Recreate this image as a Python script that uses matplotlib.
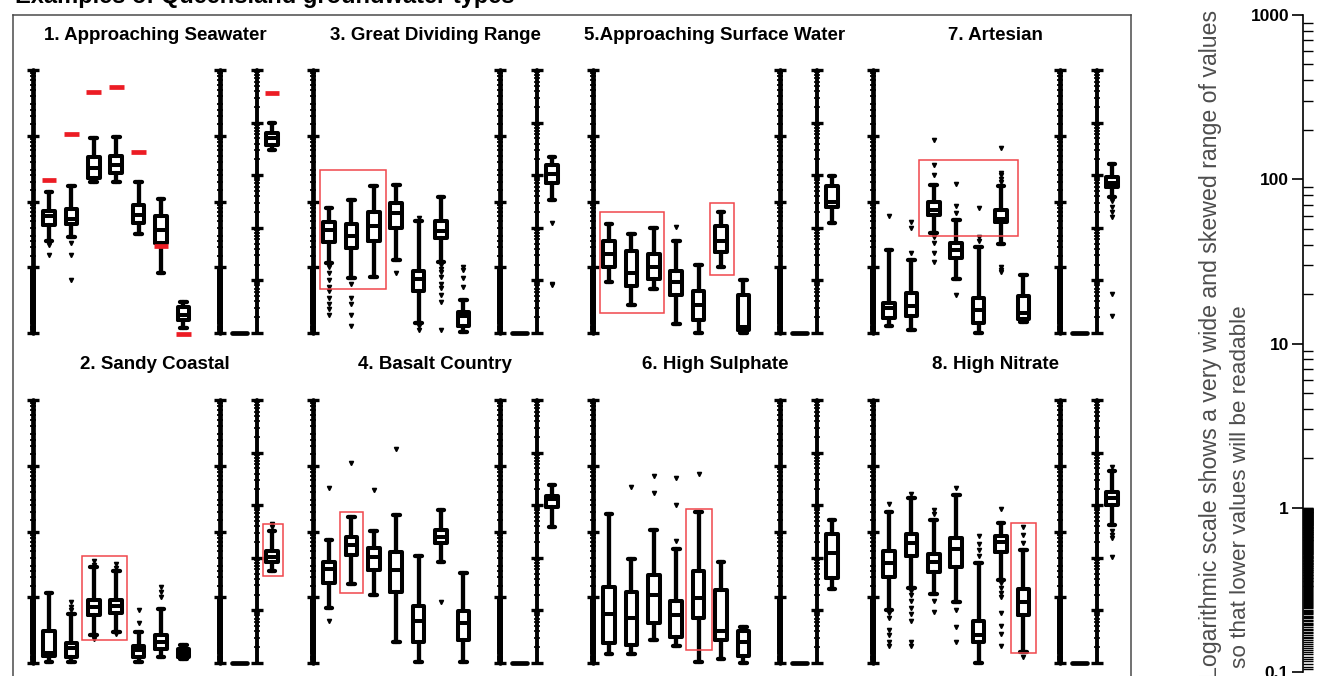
import numpy as np
import matplotlib
matplotlib.use("Agg")
import matplotlib.pyplot as plt
from matplotlib.patches import Rectangle
from matplotlib.lines import Line2D
from matplotlib.ticker import FixedLocator, NullFormatter, LogLocator, FuncFormatter

plt.rcParams['font.family'] = ['Liberation Sans', 'DejaVu Sans']

# ---------------- data ----------------
chart_title = "Examples of Queensland groundwater types"
panel_titles = ["1. Approaching Seawater", "3. Great Dividing Range",
                "5.Approaching Surface Water", "7. Artesian",
                "2. Sandy Coastal", "4. Basalt Country",
                "6. High Sulphate", "8. High Nitrate"]
note_line1 = "Logarithmic scale shows a very wide and skewed range of values"
note_line2 = "so that lower values will be readable"
scale_ticks = [0.1, 1, 10, 100, 1000]

# Panel 1 - Approaching Seawater
p1_lo = [2.5, 2.9, 19.5, 20, 3.2, 0.83, 0.12]
p1_q1 = [4.4, 4.6, 23, 27, 4.7, 2.35, 0.16]
p1_med = [6.0, 5.4, 32, 36, 6.2, 3.7, 0.19]
p1_q3 = [7.2, 7.6, 47, 49, 8.9, 6.0, 0.25]
p1_hi = [14, 17, 91, 96, 20, 11, 0.30]
p1_fliers = [[2.2, 1.55], [2.35, 1.55, 0.63], [], [], [], [], []]
p1_right = [300, 375, 500, 630, 1000]
p1_right_fliers = []
p1_seawater = [21, 105, 470, 560, 56, 2.1, 0.095]
p1_seawater_right = 3700

# Panel 3 - Great Dividing Range
p3_lo = [1.17, 0.68, 0.71, 1.3, 0.14, 1.2, 0.105]
p3_q1 = [2.45, 1.95, 2.5, 3.9, 0.44, 2.75, 0.126]
p3_med = [3.7, 3.0, 4.3, 6.6, 0.66, 3.5, 0.18]
p3_q3 = [4.8, 4.6, 6.9, 9.5, 0.89, 5.1, 0.21]
p3_hi = [8.0, 10.5, 17, 18, 5.1, 11.7, 0.32]
p3_fliers = [[1.02, 0.81, 0.64, 0.50, 0.43, 0.34, 0.28, 0.235, 0.185],
             [0.56, 0.34, 0.28, 0.185, 0.13], [], [0.83], [5.6, 0.13, 0.11],
             [1.07, 0.95, 0.85, 0.71, 0.56, 0.48, 0.38, 0.30, 0.11],
             [1.02, 0.91, 0.68, 0.50]]
p3_right = [34, 70, 105, 155, 220]
p3_right_fliers = [12.6, 0.87, 0.8]

# Panel 5 - Approaching Surface Water
p5_lo = [0.59, 0.27, 0.46, 0.138, 0.10, 1.0, 0.10]
p5_q1 = [1.02, 0.51, 0.66, 0.38, 0.16, 1.73, 0.112]
p5_med = [1.58, 0.81, 1.0, 0.60, 0.27, 2.5, 0.125]
p5_q3 = [2.5, 1.78, 1.58, 0.89, 0.44, 4.2, 0.38]
p5_hi = [4.6, 3.2, 4.0, 2.5, 1.08, 6.9, 0.64]
p5_fliers = [[], [], [], [4.1], [], [], []]
p5_right = [12.6, 25, 31.5, 62, 97]
p5_right_fliers = []

# Panel 7 - Artesian
p7_lo = [0.126, 0.11, 3.3, 0.66, 0.10, 2.24, 0.145]
p7_q1 = [0.167, 0.18, 6.2, 1.38, 0.14, 4.8, 0.162]
p7_med = [0.24, 0.26, 7.3, 1.86, 0.22, 5.5, 0.20]
p7_q3 = [0.29, 0.41, 10, 2.3, 0.34, 7.4, 0.36]
p7_hi = [1.86, 1.3, 18, 5.2, 2.05, 17, 0.76]
p7_fliers = [[6.0], [4.9, 4.0, 1.66], [87, 36, 25, 2.9, 2.35, 1.62, 1.2],
             [18.6, 8.5, 6.8, 0.38], [8.0, 2.9, 2.5],
             [66, 27, 25, 22, 20, 1.02, 0.91, 0.84], []]
p7_right = [39, 59, 71, 93, 162]
p7_right_fliers = [32, 25, 20, 16, 0.55, 0.21]

# Panel 2 - Sandy Coastal
p2_lo = [0.105, 0.105, 0.27, 0.30, 0.105, 0.125, 0.115]
p2_q1 = [0.128, 0.125, 0.54, 0.57, 0.125, 0.162, 0.123]
p2_med = [0.144, 0.167, 0.72, 0.74, 0.155, 0.21, 0.141]
p2_q3 = [0.31, 0.20, 0.91, 0.91, 0.18, 0.27, 0.162]
p2_hi = [1.17, 0.56, 2.9, 2.5, 0.30, 0.66, 0.185]
p2_fliers = [[], [0.85, 0.72, 0.64], [3.5, 3.1, 0.25, 0.23], [3.2, 2.8, 0.28],
             [0.64, 0.40], [1.45, 1.2, 1.0], []]
p2_right = [5.5, 8.5, 10.5, 13.6, 33]
p2_right_fliers = [44, 39]

# Panel 4 - Basalt Country
p4_lo = [0.68, 1.58, 1.08, 0.21, 0.105, 3.4, 0.105]
p4_q1 = [1.62, 4.4, 2.6, 1.2, 0.21, 6.6, 0.22]
p4_med = [2.7, 6.2, 4.1, 2.6, 0.44, 8.3, 0.40]
p4_q3 = [3.4, 8.3, 5.7, 4.8, 0.74, 10.5, 0.62]
p4_hi = [7.4, 16.6, 10.2, 17.8, 4.2, 21, 2.35]
p4_fliers = [[46, 0.43], [110], [43], [178], [], [0.85], []]
p4_right = [39, 91, 130, 150, 240]
p4_right_fliers = []

# Panel 6 - High Sulphate
p6_lo = [0.138, 0.138, 0.22, 0.18, 0.105, 0.117, 0.10]
p6_q1 = [0.2, 0.186, 0.40, 0.25, 0.48, 0.22, 0.128]
p6_med = [0.55, 0.48, 1.08, 0.54, 0.96, 0.31, 0.21]
p6_q3 = [1.41, 1.2, 2.2, 0.89, 2.5, 1.29, 0.31]
p6_hi = [18.2, 3.8, 10.7, 5.5, 19.5, 3.4, 0.35]
p6_fliers = [[], [47], [69, 38], [65, 25, 7.2], [74], [], []]
p6_right = [2.5, 4.1, 12.2, 28, 53]
p6_right_fliers = []

# Panel 8 - High Nitrate
p8_lo = [0.64, 1.38, 1.12, 0.85, 0.10, 1.8, 0.145]
p8_q1 = [2.05, 4.2, 2.45, 2.9, 0.21, 4.8, 0.54]
p8_med = [3.3, 6.8, 3.4, 5.4, 0.27, 7.0, 0.85]
p8_q3 = [5.0, 9.1, 4.6, 8.0, 0.44, 8.5, 1.32]
p8_hi = [19.6, 32, 15, 36, 3.3, 13.6, 5.2]
p8_fliers = [[26, 0.57, 0.48, 0.32, 0.27, 0.21, 0.18],
             [37, 1.26, 1.07, 0.87, 0.69, 0.55, 0.44, 0.21, 0.18],
             [21, 18.6, 0.87, 0.59], [46, 0.64, 0.35, 0.21], [8.5, 6.5, 5.2, 4.2],
             [22, 1.62, 1.38, 1.15, 1.02, 0.57, 0.37, 0.28, 0.18],
             [11.7, 8.9, 6.6, 0.123]]
p8_right = [42, 100, 135, 175, 440]
p8_right_fliers = [540, 32, 27, 23.5, 10.2]

# value at which each panel's middle strip sits (all at the floor)
middle_values = [0.1] * 8

# highlighted groups: (panel, axis, first pos, last pos, low value, high value)
highlights = [
    (1, 'main', 0.6, 3.54, 0.47, 30),
    (2, 'main', 0.6, 3.46, 0.20, 7.0),
    (2, 'main', 5.51, 6.58, 0.76, 9.5),
    (3, 'main', 2.34, 6.76, 3.0, 43),
    (4, 'main', 2.47, 4.48, 0.22, 4.2),
    (4, 'right', 0.6, 1.49, 4.5, 44),
    (5, 'main', 1.49, 2.52, 1.17, 20),
    (6, 'main', 4.44, 5.6, 0.155, 22),
    (7, 'main', 6.45, 7.56, 0.14, 13.5),
]

panels = [
    (p1_lo, p1_q1, p1_med, p1_q3, p1_hi, p1_fliers, p1_right, p1_right_fliers),
    (p3_lo, p3_q1, p3_med, p3_q3, p3_hi, p3_fliers, p3_right, p3_right_fliers),
    (p5_lo, p5_q1, p5_med, p5_q3, p5_hi, p5_fliers, p5_right, p5_right_fliers),
    (p7_lo, p7_q1, p7_med, p7_q3, p7_hi, p7_fliers, p7_right, p7_right_fliers),
    (p2_lo, p2_q1, p2_med, p2_q3, p2_hi, p2_fliers, p2_right, p2_right_fliers),
    (p4_lo, p4_q1, p4_med, p4_q3, p4_hi, p4_fliers, p4_right, p4_right_fliers),
    (p6_lo, p6_q1, p6_med, p6_q3, p6_hi, p6_fliers, p6_right, p6_right_fliers),
    (p8_lo, p8_q1, p8_med, p8_q3, p8_hi, p8_fliers, p8_right, p8_right_fliers),
]

# ---------------- layout ----------------
W, H = 1317, 676
DPI = 100
fig = plt.figure(figsize=(W / DPI, H / DPI), dpi=DPI)
fig.patch.set_facecolor('white')

RED = '#ec1c24'
UNIT = 22.4  # px per box slot


def px_rect(x, y_top, w, h):
    return [x / W, 1 - (y_top + h) / H, w / W, h / H]


def style_log_axis(ax, ymin, ymax, dense_bottom, spine_w, maj_len, min_len, min_w,
                   extra=True):
    ax.set_yscale('log')
    ax.set_ylim(ymin, ymax)
    for s in ['top', 'right', 'bottom']:
        ax.spines[s].set_visible(False)
    ax.spines['left'].set_linewidth(spine_w)
    ax.spines['left'].set_capstyle('round')
    ax.set_xticks([])
    ax.yaxis.set_major_locator(LogLocator(base=10, numticks=20))
    lo_e, hi_e = int(np.round(np.log10(ymin))), int(np.round(np.log10(ymax)))
    minors = [s * 10.0 ** e for e in range(lo_e, hi_e) for s in range(2, 10)]
    if extra:
        minors += [s * 10.0 ** e for e in range(lo_e, hi_e) for s in (1.5, 2.5)]
    if dense_bottom:
        minors += list(np.arange(ymin * 1.05, ymin * 10, ymin * 0.05))
    ax.yaxis.set_minor_locator(FixedLocator(minors))
    ax.yaxis.set_major_formatter(NullFormatter())
    ax.yaxis.set_minor_formatter(NullFormatter())
    ax.tick_params(axis='y', which='major', direction='inout', length=maj_len,
                   width=2.4, color='black')
    ax.tick_params(axis='y', which='minor', direction='inout', length=min_len,
                   width=min_w, color='black')
    ax.patch.set_alpha(0)


box_kw = dict(
    boxprops=dict(color='black', linewidth=2.9),
    whiskerprops=dict(color='black', linewidth=3.1),
    capprops=dict(color='black', linewidth=3.1),
    medianprops=dict(color='black', linewidth=2.9),
    flierprops=dict(marker='v', markersize=3.0, markerfacecolor='black',
                    markeredgecolor='black', linestyle='none'),
)


def draw_boxes(ax, stats, positions):
    arts = ax.bxp(stats, positions=positions, widths=0.52, capwidths=0.3,
                  manage_ticks=False, **box_kw)
    for key in arts:
        for a in arts[key]:
            a.set_clip_on(False)
            if hasattr(a, 'set_solid_capstyle'):
                a.set_solid_capstyle('round')


axes_main, axes_right = [], []
for i, (lo, q1, med, q3, hi, fl, rt, rtf) in enumerate(panels):
    col, row = i % 4, i // 4
    L = 33 + 280 * col
    top = 70 + 330 * row
    hgt = 263

    ax = fig.add_axes(px_rect(L, top, 187, hgt))
    style_log_axis(ax, 0.1, 1000, True, 3.4, 9, 5.0, 1.3)
    x0 = 1 - 16 / UNIT
    ax.set_xlim(x0, x0 + 187 / UNIT)
    stats = [dict(whislo=lo[k], q1=q1[k], med=med[k], q3=q3[k], whishi=hi[k],
                  fliers=fl[k]) for k in range(len(lo))]
    draw_boxes(ax, stats, list(range(1, len(lo) + 1)))
    axes_main.append(ax)

    axm = fig.add_axes(px_rect(L + 187, top, 37, hgt))
    style_log_axis(axm, 0.1, 1000, True, 3.4, 9, 5.0, 1.3)
    axm.set_xlim(0, 1)
    axm.hlines(middle_values[i], 0.33, 0.73, color='black', linewidth=3.4,
               clip_on=False, capstyle='round')

    axr = fig.add_axes(px_rect(L + 224, top, 40, hgt))
    style_log_axis(axr, 0.1, 1e4, False, 2.8, 8, 4.0, 1.2, extra=False)
    xr0 = 1 - 15 / UNIT
    axr.set_xlim(xr0, xr0 + 40 / UNIT)
    draw_boxes(axr, [dict(whislo=rt[0], q1=rt[1], med=rt[2], q3=rt[3],
                          whishi=rt[4], fliers=rtf)], [1])
    axes_right.append(axr)

    fig.text((L + 122) / W, 1 - (40 + 329 * row) / H, panel_titles[i],
             ha='center', va='baseline', fontsize=13.5, fontweight='bold')

# seawater reference marks in panel 1
axes_main[0].hlines(p1_seawater, np.arange(1, 8) - 0.33, np.arange(1, 8) + 0.33,
                    color=RED, linewidth=3.4, clip_on=False, zorder=5)
axes_right[0].hlines(p1_seawater_right, 0.67, 1.33, color=RED, linewidth=3.4,
                     clip_on=False, zorder=5)

# highlight rectangles
for (pi, which, xa, xb, ya, yb) in highlights:
    tgt = axes_main[pi] if which == 'main' else axes_right[pi]
    tgt.add_patch(Rectangle((xa, ya), xb - xa, yb - ya, fill=False,
                            edgecolor='#f0474c', linewidth=1.1, zorder=6,
                            clip_on=False))

# frame around the panel area
frame_col = '#4a4a4a'
for (xa, ya, xb, yb) in [(13, 15, 1131, 15), (13, 15, 13, 676), (1131, 15, 1131, 676)]:
    fig.add_artist(Line2D([xa / W, xb / W], [1 - ya / H, 1 - yb / H],
                          color=frame_col, linewidth=1.1))

fig.text(15 / W, 1 - 3 / H, chart_title, ha='left', va='baseline',
         fontsize=17, fontweight='bold')

# explanatory rotated note
fig.text(1211 / W, 1 - 679 / H, note_line1, rotation=90, rotation_mode='anchor',
         ha='left', va='center', fontsize=16.7, color='#4d4d4d')
fig.text(1241 / W, 1 - 668 / H, note_line2, rotation=90, rotation_mode='anchor',
         ha='left', va='center', fontsize=16.2, color='#4d4d4d')

# reference log scale on the far right
axs = fig.add_axes(px_rect(1303, 15, 14, 657))
axs.set_yscale('log')
axs.set_ylim(0.1, 1000)
for s in ['top', 'right', 'bottom']:
    axs.spines[s].set_visible(False)
axs.spines['left'].set_linewidth(1.2)
axs.set_xticks([])
axs.yaxis.set_major_locator(FixedLocator(scale_ticks))
axs.yaxis.set_major_formatter(FuncFormatter(lambda v, p: f"{v:g}"))
leg_minor = [s * 10.0 ** e for e in range(0, 3) for s in range(2, 10)]
leg_minor += list(np.arange(0.104, 1.0, 0.004))
axs.yaxis.set_minor_locator(FixedLocator(leg_minor))
axs.yaxis.set_minor_formatter(NullFormatter())
axs.tick_params(axis='y', which='major', direction='out', length=8, width=1.2,
                pad=2, labelsize=12.5)
axs.tick_params(axis='y', which='minor', direction='in', length=7, width=1.0)
for lab in axs.get_yticklabels():
    lab.set_fontweight('bold')
axs.patch.set_alpha(0)

fig.savefig('out.png', dpi=DPI, facecolor='white')
